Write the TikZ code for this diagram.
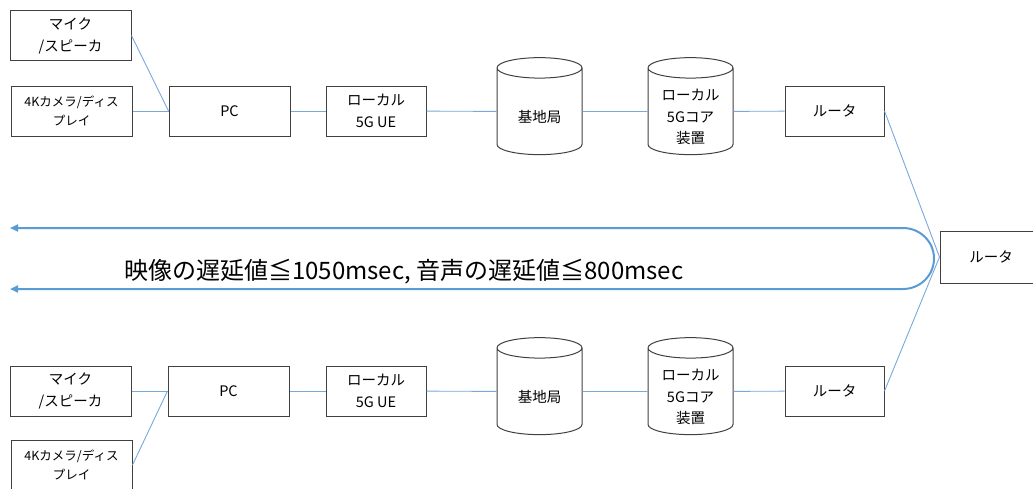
\documentclass[tikz,border=0pt]{standalone}
\usepackage{fontspec}
\setmainfont{Noto Sans CJK JP}
\usetikzlibrary{shapes.geometric, arrows.meta}
\definecolor{linkblue}{RGB}{91,155,213}
\definecolor{wireblue}{RGB}{120,168,220}
\definecolor{edgegray}{RGB}{64,64,64}

\begin{document}
\begin{tikzpicture}[x=1pt, y=-1pt,
		box/.style={draw=edgegray, line width=1pt, rectangle, align=center,
			minimum height=50pt, inner sep=0pt, font=\fontsize{14.5}{22}\selectfont},
		cyl/.style={draw=edgegray, line width=1pt, cylinder, shape border rotate=90,
			aspect=0.47, minimum width=85pt, minimum height=97pt, inner sep=0pt,
			font=\fontsize{14.5}{21.5}\selectfont},
		cyltext/.style={align=center, inner sep=0pt, font=\fontsize{14.5}{21.5}\selectfont},
		small/.style={font=\fontsize{12.5}{19}\selectfont},
		wire/.style={wireblue, line width=0.9pt},
		loop/.style={linkblue, line width=2pt, {Triangle[length=8pt,width=7pt]}-{Triangle[length=8pt,width=7pt]}}]
				\useasboundingbox (0,0) rectangle (1033,488);
				\clip (0,0) rectangle (1033,488);

				% upper chain
				\node[box, minimum width=121pt] (mic1) at (70.5,35.5) {マイク\\/スピーカ};
				\node[box, small, minimum width=121pt] (cam1) at (71.5,111) {4Kカメラ/ディス\\プレイ};
				\node[box, minimum width=121pt] (pc1) at (229.5,111) {PC};
				\node[box, minimum width=100pt] (ue1) at (376,111) {ローカル\\5G UE};
				\node[cyl] (bs1) at (539.5,111.5) {\phantom{基地局}};
				\node[cyltext] (bs1t) at (539.5,117) {基地局};
				\node[cyl] (core1) at (690.5,111.5) {\phantom{基地局}};
				\node[cyltext] (core1t) at (690.5,117) {ローカル\\5Gコア\\装置};
				\node[box, minimum width=99pt] (rt1) at (834.5,111) {ルータ};

				% lower chain
				\node[box, minimum width=121pt] (mic2) at (70.5,391) {マイク\\/スピーカ};
				\node[box, small, minimum width=121pt] (cam2) at (71.5,465) {4Kカメラ/ディス\\プレイ};
				\node[box, minimum width=121pt] (pc2) at (228.5,391) {PC};
				\node[box, minimum width=100pt] (ue2) at (376,391) {ローカル\\5G UE};
				\node[cyl] (bs2) at (539.5,391.5) {\phantom{基地局}};
				\node[cyltext] (bs2t) at (539.5,397) {基地局};
				\node[cyl] (core2) at (690.5,391.5) {\phantom{基地局}};
				\node[cyltext] (core2t) at (690.5,397) {ローカル\\5Gコア\\装置};
				\node[box, minimum width=99pt] (rt2) at (834.5,391) {ルータ};

				\node[box, minimum width=102pt, minimum height=52pt] (rtm) at (991,257) {ルータ};

				\draw[wire] (mic1.east) -- (pc1.west);
				\draw[wire] (cam1.east) -- (pc1.west);
				\draw[wire] (pc1) -- (ue1);
				\draw[wire] (ue1) -- (bs1);
				\draw[wire] (bs1) -- (core1);
				\draw[wire] (core1) -- (rt1);
				\draw[wire] (rt1.east) -- (rtm.west);

				\draw[wire] (mic2.east) -- (pc2.west);
				\draw[wire] (cam2.east) -- (pc2.west);
				\draw[wire] (pc2) -- (ue2);
				\draw[wire] (ue2) -- (bs2);
				\draw[wire] (bs2) -- (core2);
				\draw[wire] (core2) -- (rt2);
				\draw[wire] (rt2.east) -- (rtm.west);

				% delay loop
				\coordinate (tipA) at (10,228);
				\coordinate (tipB) at (10,289);
				\draw[loop] (tipA) -- (903,228)
					arc[start angle=90, end angle=-90, x radius=31pt, y radius=30.5pt]
					-- (tipB);
				\node[font=\fontsize{24}{28}\selectfont, anchor=west, inner sep=0pt] (delay) at (124,272)
					{映像の遅延値≦1050msec, 音声の遅延値≦800msec};
			\end{tikzpicture}
\end{document}
